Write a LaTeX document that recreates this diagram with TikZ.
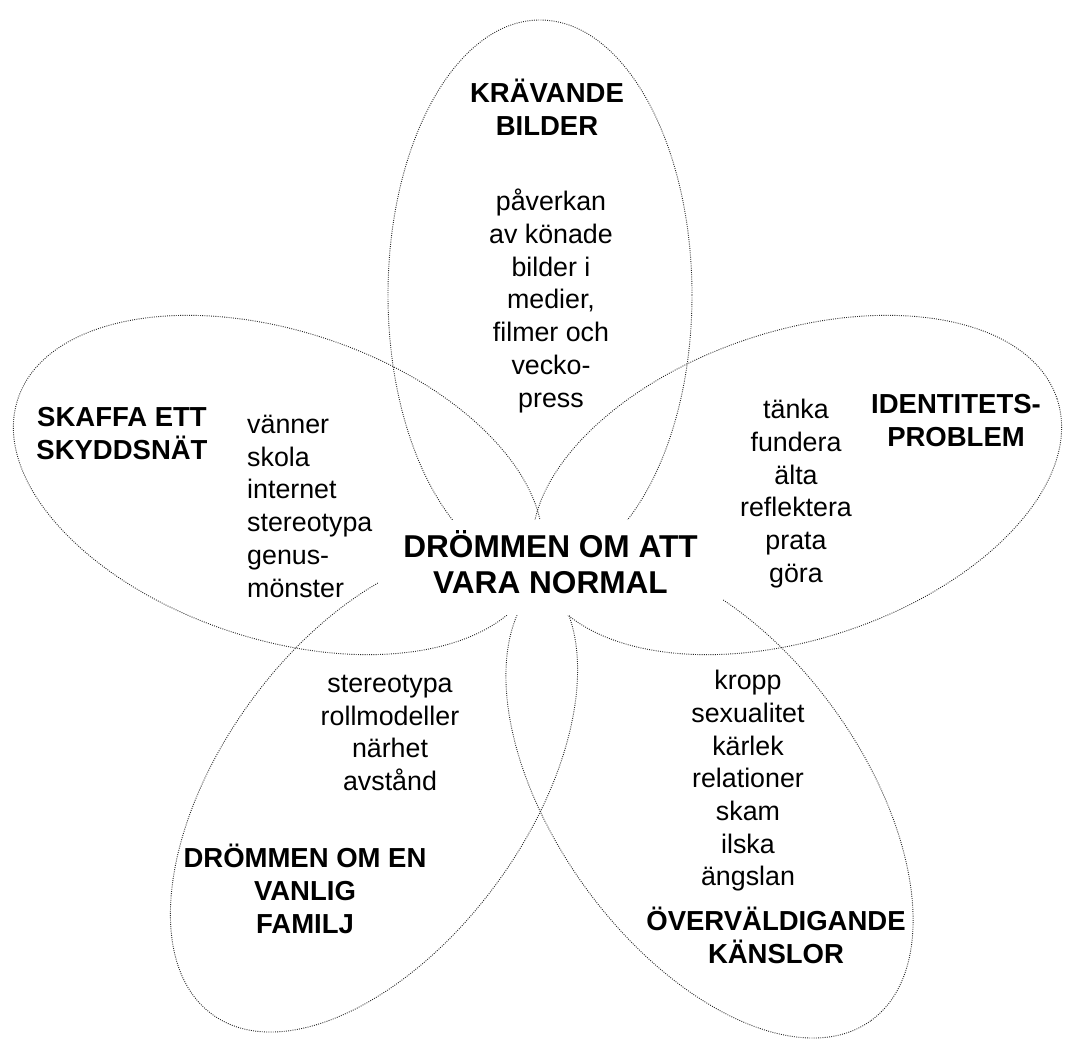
\documentclass[tikz,border=0pt]{standalone}
\usepackage{fontspec}
\setmainfont{Liberation Sans}
\tikzset{
  petal/.style={draw=black!85, line width=0.9pt, dash pattern=on 0.9pt off 1.3pt},
  body/.style={font=\fontsize{26.8}{32.7}\selectfont, align=center, inner sep=0pt, anchor=north, execute at begin node=\strut},
  head/.style={font=\bfseries\fontsize{27.5}{33}\selectfont, align=center, inner sep=0pt, anchor=north, execute at begin node=\strut},
  title/.style={font=\bfseries\fontsize{31.6}{36}\selectfont, align=center, inner sep=0pt, fill=white, minimum width=345, minimum height=95, execute at begin node=\strut},
}
\begin{document}
\begin{tikzpicture}[x=1pt,y=1pt]
\fill[white] (0,0) rectangle (1085,-1054);
\useasboundingbox (0,0) rectangle (1085,-1054);
% petals
\draw[petal] (540,-295) ellipse [x radius=152, y radius=275];
\draw[petal, shift={(797,-485)}, rotate=18.3] (0,0) ellipse [x radius=274, y radius=154];
\draw[petal, shift={(278,-485)}, rotate=-18.3] (0,0) ellipse [x radius=274, y radius=154];
\draw[petal, shift={(709.5,-798)}, rotate=-54] (0,0) ellipse [x radius=275, y radius=153];
\draw[petal, shift={(374,-792)}, rotate=54] (0,0) ellipse [x radius=275, y radius=153];
% centre
\node[title] (centre) at (550.5,-567.5) {DRÖMMEN OM ATT\\VARA NORMAL};
% top petal
\node[head] (h1) at (547,-79) {KRÄVANDE\\BILDER};
\node[body] (b1) at (551,-189) {påverkan\\av könade\\bilder i\\medier,\\filmer och\\vecko-\\press};
% left petal
\node[head] (h2) at (122,-407) {SKAFFA ETT\\SKYDDSNÄT};
\node[body, align=left, anchor=north west] (b2) at (247,-415) {vänner\\skola\\internet\\stereotypa\\genus-\\mönster};
% right petal
\node[body] (b3) at (796,-399) {tänka\\fundera\\älta\\reflektera\\prata\\göra};
\node[head] (h3) at (956,-394) {IDENTITETS-\\PROBLEM};
% bottom-left petal
\node[body] (b4) at (390,-675) {stereotypa\\rollmodeller\\närhet\\avstånd};
\node[head] (h4) at (305,-844) {DRÖMMEN OM EN\\VANLIG\\FAMILJ};
% bottom-right petal
\node[body] (b5) at (748,-670) {kropp\\sexualitet\\kärlek\\relationer\\skam\\ilska\\ängslan};
\node[head] (h5) at (776,-907) {ÖVERVÄLDIGANDE\\KÄNSLOR};
\end{tikzpicture}
\end{document}
